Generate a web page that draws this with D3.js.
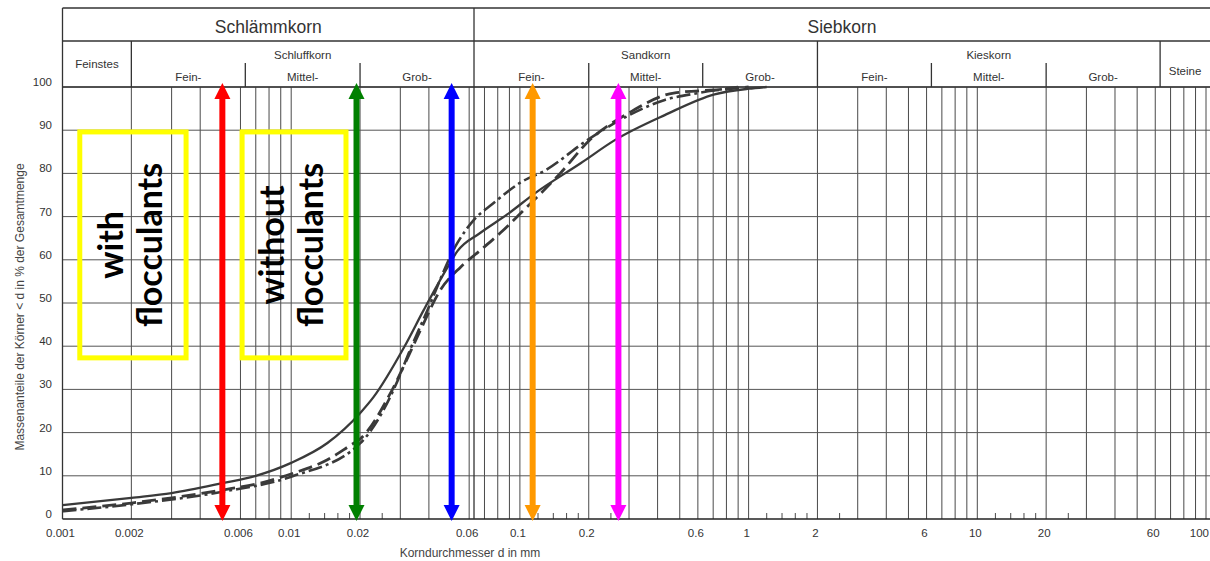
<!DOCTYPE html>
<html>
<head>
<meta charset="utf-8">
<script src="https://cdn.jsdelivr.net/npm/d3@7"></script>
<style>
  html, body { margin: 0; padding: 0; background: #fff; }
  svg { display: block; }
</style>
</head>
<body>
<svg id="chart" width="1210" height="561"></svg>
<script>
// ---------------- data ----------------
// grain diameter (mm) and passing percentage, three curves
const solidD   = [0.001, 0.002, 0.003, 0.005, 0.007, 0.01, 0.0144, 0.02, 0.0229, 0.0312, 0.038, 0.0483, 0.0533, 0.067, 0.088, 0.117, 0.185, 0.26, 0.43, 0.71, 1.0, 1.2];
const solidP   = [3.2,   4.9,   6.0,   8.3,   10.0,  13.0, 17.6,   24.5, 28.2,   39.8,   48.4,  58.3,   62.0,   66.2,  70.5,  75.5,  82.4,  87.7, 93.5, 98.3, 99.6, 100];

const dashedD  = [0.001, 0.002, 0.005, 0.0073, 0.0102, 0.0144, 0.0182, 0.02, 0.0272, 0.033, 0.0368, 0.0449, 0.055, 0.0675, 0.082, 0.104, 0.15, 0.2, 0.3, 0.47, 0.8, 1.0];
const dashedP  = [2.1,   3.7,   6.7,   8.3,    10.6,   13.7,   17.1,   18.5, 29.2,   38.4,  43.8,   53.0,   58.3,  62.3,   66.2,  71.5,  80.0, 87.5, 94.0, 98.6, 99.5, 100];

const dashdotD = [0.001, 0.002, 0.005, 0.01, 0.02, 0.0293, 0.033, 0.0386, 0.0533, 0.0628, 0.0758, 0.1, 0.13, 0.197, 0.275, 0.43, 0.6, 0.9];
const dashdotP = [1.8,   3.4,   6.3,   9.8,  17.5, 32.2,   39.0,  47.2,   63.9,   69.2,   72.9,   77.8, 80.8, 87.7,  92.4,  97.0, 98.6, 100];

// axis ticks
const xTickValues = [0.001, 0.002, 0.006, 0.01, 0.02, 0.06, 0.1, 0.2, 0.6, 1, 2, 6, 10, 20, 60, 100];
const xTickLabels = ["0.001", "0.002", "0.006", "0.01", "0.02", "0.06", "0.1", "0.2", "0.6", "1", "2", "6", "10", "20", "60", "100"];
const yTickValues = [0, 10, 20, 30, 40, 50, 60, 70, 80, 90, 100];
const gridDecades = [0.001, 0.01, 0.1, 1, 10];
const gridMultiples = [1, 2, 3, 4, 5, 6, 7, 8, 9];
const minorMultiples = [1.2, 1.4, 1.6, 1.8, 2.5];
const minorDecades = [0.01, 0.1, 1, 10];

// soil classification header (DIN 4022)
const mainGroups = ["Schlämmkorn", "Siebkorn"];
const mainBounds = [0.001, 0.063, 200];
const groupNames = ["Feinstes", "Schluffkorn", "Sandkorn", "Kieskorn", "Steine"];
const groupBounds = [0.001, 0.002, 0.063, 2, 63, 200];
const subNames = ["Fein-", "Mittel-", "Grob-", "Fein-", "Mittel-", "Grob-", "Fein-", "Mittel-", "Grob-"];
const subBounds = [0.002, 0.0063, 0.02, 0.063, 0.2, 0.63, 2, 6.3, 20, 63];
const subDividers = [0.0063, 0.02, 0.2, 0.63, 6.3, 20];

// colored double arrows (diameter, colour)
const arrowD = [0.0050, 0.0193, 0.0503, 0.1137, 0.2696];
const arrowColors = ["#ff0000", "#008000", "#0000ff", "#ff9900", "#ff00ff"];

// annotation boxes
const boxLabels = [["with", "flocculants"], ["without", "flocculants"]];
const boxX0 = [0.00119, 0.0061];
const boxX1 = [0.00347, 0.01736];
const boxYLow = [37.3, 37.3];
const boxYHigh = [89.6, 89.6];

// ---------------- drawing ----------------
const W = 1210, H = 561;
const svg = d3.select("#chart");
const x = d3.scaleLog().domain([0.001, 100]).range([62.5, 1206]);
const y = d3.scaleLinear().domain([0, 100]).range([519, 87]);
const xr = v => Math.min(x(v), W);

const headerTop = 8, row1Bottom = 41, subTop = 63;
const gridColor = "#4a4a4a", textColor = "#333";
const font = "'Liberation Sans', Arial, sans-serif";

// vertical grid lines
const gridVals = [];
gridDecades.forEach(dec => gridMultiples.forEach(m => gridVals.push(+(dec * m).toPrecision(3))));
gridVals.push(100);
svg.append("g").selectAll("line").data(gridVals).join("line")
  .attr("x1", d => x(d)).attr("x2", d => x(d))
  .attr("y1", y(100)).attr("y2", y(0))
  .attr("stroke", gridColor).attr("stroke-width", 1);

// minor ticks
const minorVals = [];
minorDecades.forEach(dec => minorMultiples.forEach(m => minorVals.push(dec * m)));
svg.append("g").selectAll("line").data(minorVals).join("line")
  .attr("x1", d => x(d)).attr("x2", d => x(d))
  .attr("y1", y(0) - 6).attr("y2", y(0))
  .attr("stroke", gridColor).attr("stroke-width", 1);

// horizontal grid
svg.append("g").selectAll("line").data(yTickValues).join("line")
  .attr("x1", x(0.001)).attr("x2", W)
  .attr("y1", d => y(d)).attr("y2", d => y(d))
  .attr("stroke", d => d === 0 ? "#222" : "#555").attr("stroke-width", d => d === 0 ? 1.6 : 1);

// y tick labels
svg.append("g").selectAll("text").data(yTickValues).join("text")
  .attr("x", 52).attr("y", d => y(d) - 1)
  .attr("text-anchor", "end")
  .attr("font-family", font).attr("font-size", 11.5).attr("fill", textColor)
  .text(d => d);

// x tick labels (last one kept inside the window)
svg.append("g").selectAll("text").data(xTickValues).join("text")
  .attr("x", (d, i) => i === xTickValues.length - 1 ? W - 1 : x(d) - 2).attr("y", 537)
  .attr("text-anchor", (d, i) => i === xTickValues.length - 1 ? "end" : "middle")
  .attr("font-family", font).attr("font-size", 11.5).attr("fill", textColor)
  .text((d, i) => xTickLabels[i]);

// axis titles
svg.append("text")
  .attr("transform", `translate(24, ${(y(0) + y(100)) / 2 + 4}) rotate(-90)`)
  .attr("text-anchor", "middle")
  .attr("font-family", font).attr("font-size", 12).attr("fill", "#444")
  .text("Massenanteile der Körner < d in % der Gesamtmenge");
svg.append("text")
  .attr("x", 470).attr("y", 557)
  .attr("text-anchor", "middle")
  .attr("font-family", font).attr("font-size", 12).attr("fill", "#444")
  .text("Korndurchmesser d in mm");

// header frame
const hdr = svg.append("g").attr("stroke", "#333").attr("stroke-width", 1.3);
[headerTop, row1Bottom, y(100)].forEach(yy =>
  hdr.append("line").attr("x1", x(0.001)).attr("x2", W).attr("y1", yy).attr("y2", yy));
hdr.append("line").attr("x1", x(0.001)).attr("x2", x(0.001)).attr("y1", headerTop).attr("y2", y(0));
hdr.append("line").attr("x1", x(0.063)).attr("x2", x(0.063)).attr("y1", headerTop).attr("y2", y(0));
[0.002, 2, 63].forEach(v =>
  hdr.append("line").attr("x1", x(v)).attr("x2", x(v)).attr("y1", row1Bottom).attr("y2", y(100)));
subDividers.forEach(v =>
  hdr.append("line").attr("x1", x(v)).attr("x2", x(v)).attr("y1", subTop).attr("y2", y(100)));

// header texts
const gm = (a, b) => (xr(a) + xr(b)) / 2;
mainGroups.forEach((name, i) => {
  svg.append("text").attr("x", gm(mainBounds[i], mainBounds[i + 1])).attr("y", 33)
    .attr("text-anchor", "middle").attr("font-family", font).attr("font-size", 17.5)
    .attr("fill", textColor).text(name);
});
groupNames.forEach((name, i) => {
  const single = (name === "Feinstes" || name === "Steine");
  svg.append("text").attr("x", gm(groupBounds[i], groupBounds[i + 1]))
    .attr("y", single ? (name === "Feinstes" ? 68 : 75) : 59)
    .attr("text-anchor", "middle").attr("font-family", font).attr("font-size", 11.5)
    .attr("fill", textColor).text(name);
});
subNames.forEach((name, i) => {
  svg.append("text").attr("x", gm(subBounds[i], subBounds[i + 1])).attr("y", 81)
    .attr("text-anchor", "middle").attr("font-family", font).attr("font-size", 11.5)
    .attr("fill", textColor).text(name);
});

// curves
const line = d3.line().x(d => x(d[0])).y(d => y(d[1])).curve(d3.curveMonotoneX);
const zip = (a, b) => a.map((v, i) => [v, b[i]]);
const curves = [
  { data: zip(dashedD, dashedP), dash: "14,6", w: 2.8 },
  { data: zip(dashdotD, dashdotP), dash: "14,4,3,4", w: 2.6 },
  { data: zip(solidD, solidP), dash: null, w: 2.3 }
];
curves.forEach(c => {
  svg.append("path").datum(c.data).attr("d", line)
    .attr("fill", "none").attr("stroke", "#3a3a3a")
    .attr("stroke-width", c.w).attr("stroke-dasharray", c.dash)
    .attr("stroke-linecap", "butt");
});

// yellow boxes with labels
boxLabels.forEach((lines, i) => {
  const bx0 = x(boxX0[i]), bx1 = x(boxX1[i]);
  const by0 = y(boxYHigh[i]), by1 = y(boxYLow[i]);
  svg.append("rect").attr("x", bx0).attr("y", by0)
    .attr("width", bx1 - bx0).attr("height", by1 - by0)
    .attr("fill", "none").attr("stroke", "#ffff00").attr("stroke-width", 5);
  const cx = (bx0 + bx1) / 2, cy = (by0 + by1) / 2;
  lines.forEach((t, j) => {
    svg.append("text")
      .attr("transform", `translate(${cx + (j === 0 ? -10 : 29)}, ${cy}) rotate(-90)`)
      .attr("text-anchor", "middle")
      .attr("font-family", "Lato, 'Open Sans', sans-serif").attr("font-weight", 700)
      .attr("font-size", 34).attr("fill", "#000")
      .text(t);
  });
});

// colored double arrows
const tipTop = y(100) - 4, tipBot = y(0) + 2, headH = 16, headW = 16, shaftW = 6;
arrowD.forEach((d, i) => {
  const ax = x(d), col = arrowColors[i];
  const g = svg.append("g").attr("fill", col);
  g.append("rect").attr("x", ax - shaftW / 2).attr("y", tipTop + headH - 1)
    .attr("width", shaftW).attr("height", tipBot - tipTop - 2 * headH + 2);
  g.append("path").attr("d", `M${ax},${tipTop} L${ax + headW / 2},${tipTop + headH} L${ax - headW / 2},${tipTop + headH} Z`);
  g.append("path").attr("d", `M${ax},${tipBot} L${ax + headW / 2},${tipBot - headH} L${ax - headW / 2},${tipBot - headH} Z`);
});
</script>
</body>
</html>
